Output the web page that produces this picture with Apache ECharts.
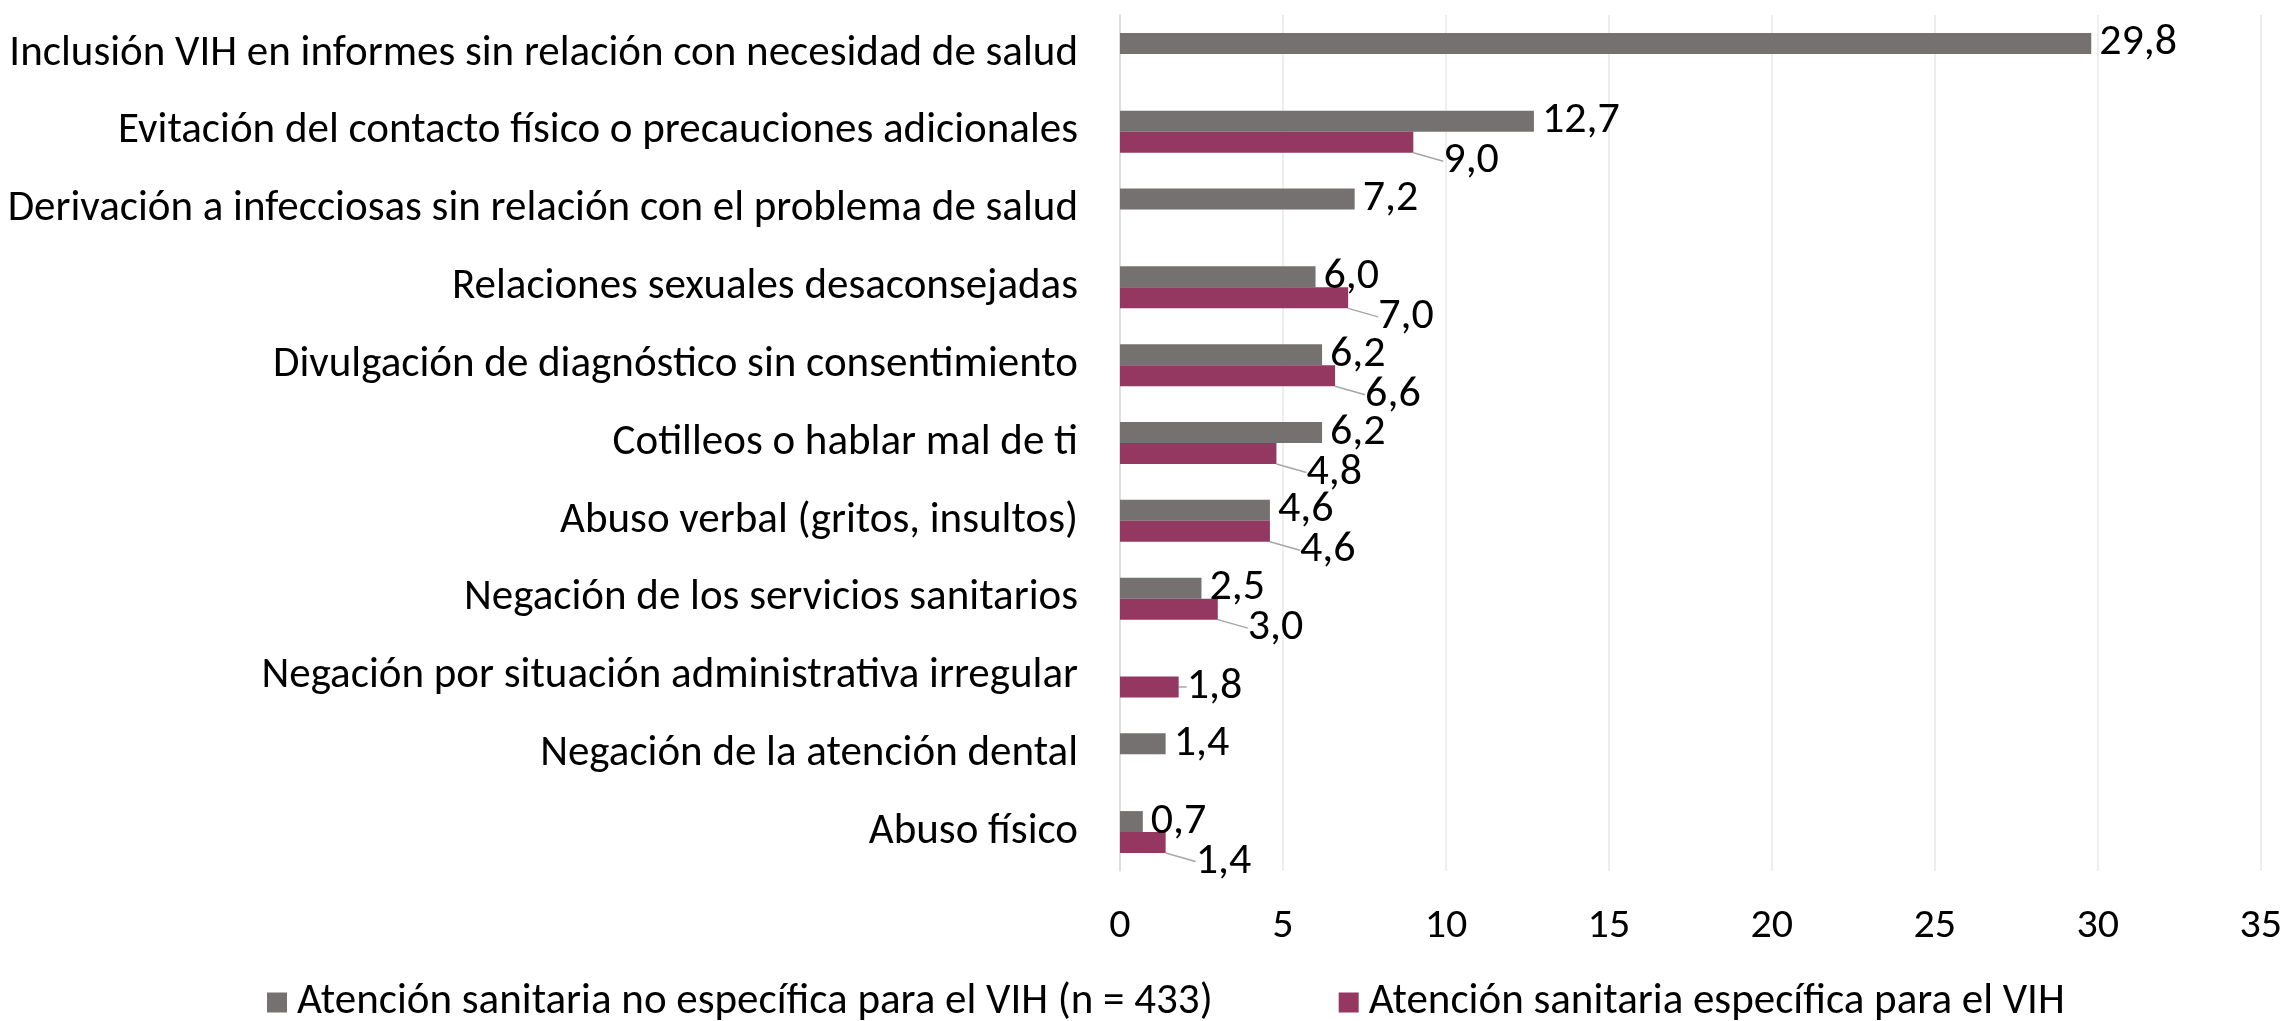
<!DOCTYPE html>
<html>
<head>
<meta charset="utf-8">
<script src="https://cdn.jsdelivr.net/npm/echarts@6/dist/echarts.min.js"></script>
<style>
  html, body { margin: 0; padding: 0; background: #fff; }
  #chart { width: 2285px; height: 1021px; }
</style>
</head>
<body>
<div id="chart"></div>
<script>
// categorias, de arriba a abajo
var categories = [
    'Inclusión VIH en informes sin relación con necesidad de salud',
    'Evitación del contacto físico o precauciones adicionales',
    'Derivación a infecciosas sin relación con el problema de salud',
    'Relaciones sexuales desaconsejadas',
    'Divulgación de diagnóstico sin consentimiento',
    'Cotilleos o hablar mal de ti',
    'Abuso verbal (gritos, insultos)',
    'Negación de los servicios sanitarios',
    'Negación por situación administrativa irregular',
    'Negación de la atención dental',
    'Abuso físico'
];
var seriesNames = [
    'Atención sanitaria no específica para el VIH (n = 433)',
    'Atención sanitaria específica para el VIH'
];
var noEspecifica = [29.8, 12.7, 7.2, 6.0, 6.2, 6.2, 4.6, 2.5, null, 1.4, 0.7];
var especifica = [null, 9.0, null, 7.0, 6.6, 4.8, 4.6, 3.0, 1.8, null, 1.4];
var xTicks = [0, 35, 5]; // min, max, interval

var FONT = 'Carlito, Lato, sans-serif';

function fmt(p) {
    return p.value == null ? '' : p.value.toFixed(1).replace('.', ',');
}

var chart = echarts.init(document.getElementById('chart'));
chart.setOption({
    animation: false,
    textStyle: { fontFamily: FONT },
    grid: { left: 1120, right: 23, top: 15, bottom: 150, containLabel: false },
    legend: {
        data: seriesNames,
        bottom: -8,
        left: 262,
        icon: 'rect',
        itemWidth: 20,
        itemHeight: 20,
        itemGap: 126,
        textStyle: { fontFamily: FONT, fontSize: 43, color: '#000', padding: [0, 0, 0, 5] }
    },
    xAxis: {
        type: 'value',
        min: xTicks[0],
        max: xTicks[1],
        interval: xTicks[2],
        axisLine: { show: false },
        axisTick: { show: false },
        splitLine: { lineStyle: { color: '#e8e8e8', width: 1.5 } },
        axisLabel: { fontSize: 42, color: '#000', margin: 34 }
    },
    yAxis: {
        type: 'category',
        data: categories,
        inverse: true,
        axisTick: { show: false },
        axisLine: { lineStyle: { color: '#d9d9d9', width: 1.5 } },
        axisLabel: { fontSize: 43, color: '#000', margin: 42 }
    },
    series: [
        {
            name: seriesNames[0],
            type: 'bar',
            data: noEspecifica,
            barWidth: 21,
            barGap: '0%',
            itemStyle: { color: '#767171' },
            label: {
                show: true, position: 'right', distance: 8,
                fontSize: 44, color: '#000', formatter: fmt
            }
        },
        {
            name: seriesNames[1],
            type: 'bar',
            data: especifica,
            barWidth: 21,
            barGap: '0%',
            itemStyle: { color: '#943761' },
            label: {
                show: true, position: 'right', distance: 8,
                fontSize: 44, color: '#000', formatter: fmt
            },
            labelLine: { show: true, lineStyle: { color: '#a6a6a6', width: 1.5 } },
            labelLayout: function (params) {
                // etiqueta desplazada abajo cuando hay barra gris encima
                if (noEspecifica[params.dataIndex] != null) {
                    return { dx: 22, dy: 19 };
                }
                return {};
            }
        }
    ]
});
</script>
</body>
</html>
